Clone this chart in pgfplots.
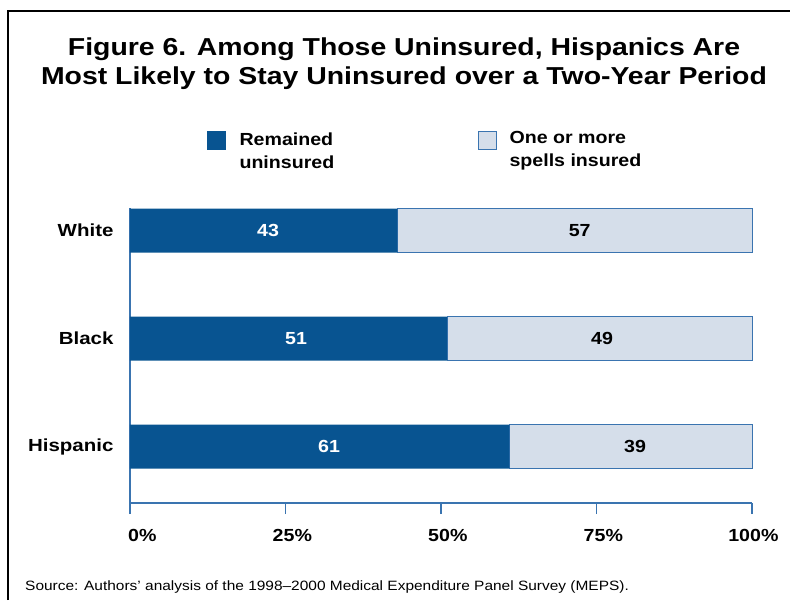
\documentclass[border=0pt]{standalone}
\usepackage{fontspec}
\setmainfont{Liberation Sans}
\usepackage{pgfplots}
\pgfplotsset{compat=1.18}
\usepackage{graphicx}
\definecolor{dblue}{HTML}{085491}
\definecolor{lblue}{HTML}{D5DEEA}
\definecolor{axblue}{HTML}{3A74B0}
\newcommand{\sx}[1]{\scalebox{1.16}[1]{#1}}
\newcommand{\sxl}[1]{\scalebox{1.12}[1]{#1}}
\newcommand{\sxc}[1]{\scalebox{1.17}[1]{#1}}
\pgfplotstableread{
y uninsured insured
0 61 39
1 51 49
2 43 57
}\datatable
\begin{document}
\begin{tikzpicture}
\path[use as bounding box] (0pt,0pt) rectangle (790pt,600pt);
\draw[line width=2pt] (8pt,0pt) -- (8pt,589pt) -- (790pt,589pt);
\node[font=\bfseries\fontsize{24.5}{29}\selectfont, align=center] at (404pt,536pt)
  {\sx{Figure 6. Among Those Uninsured, Hispanics Are}\\\sx{Most Likely to Stay Uninsured over a Two-Year Period}};
% legend
\fill[dblue] (207pt,450pt) rectangle (226pt,469pt);
\node[anchor=west, align=left, font=\bfseries\fontsize{17.5}{23}\selectfont] at (236pt,449pt) {\sxl{Remained}\\\sxl{uninsured}};
\draw[axblue, fill=lblue, line width=1.2pt] (478.6pt,450.6pt) rectangle (496.4pt,468.4pt);
\node[anchor=west, align=left, font=\bfseries\fontsize{17.5}{23}\selectfont] at (506pt,449pt) {\sxl{One or more}\\\sxl{spells insured}};
\begin{axis}[
  at={(130pt,97pt)}, anchor=south west, scale only axis,
  width=622pt, height=294.5pt,
  xbar stacked, bar width=44pt,
  xmin=0, xmax=100, ymin=-0.523, ymax=2.204,
  axis x line=bottom, axis y line=left,
  axis line style={-, draw=axblue, line width=1.5pt},
  xtick={0,25,50,75,100},
  xticklabels={\sxl{0\%},\sxl{25\%},\sxl{50\%},\sxl{75\%},\sxl{100\%}},
  ytick={0,1,2},
  yticklabels={\sxc{Hispanic},\sxc{Black},\sxc{White}},
  tick align=outside,
  major tick length=11pt,
  xtick style={draw=axblue, line width=1.5pt},
  ytick style={draw=none},
  ticklabel style={font=\bfseries\fontsize{17.5}{20}\selectfont},
  xticklabel style={anchor=north east, yshift=-12pt, xshift=30pt},
  yticklabel style={xshift=-2pt},
  clip=false,
]
\addplot[fill=dblue, draw=none] table[x=uninsured, y=y] {\datatable};
\addplot[fill=lblue, draw=axblue, line width=1pt] table[x=insured, y=y] {\datatable};
\coordinate (a2) at (axis cs:22.2,2);
\coordinate (b2) at (axis cs:72.3,2);
\coordinate (a1) at (axis cs:26.7,1);
\coordinate (b1) at (axis cs:75.9,1);
\coordinate (a0) at (axis cs:32.0,0);
\coordinate (b0) at (axis cs:81.2,0);
\end{axis}
\begin{scope}[every node/.style={font=\bfseries\fontsize{17.5}{20}\selectfont}]
\node[text=white] at (a2) {\sxl{43}};
\node[text=black] at (b2) {\sxl{57}};
\node[text=white] at (a1) {\sxl{51}};
\node[text=black] at (b1) {\sxl{49}};
\node[text=white] at (a0) {\sxl{61}};
\node[text=black] at (b0) {\sxl{39}};
\end{scope}
\node[anchor=west, inner sep=0pt, font=\fontsize{13.5}{15}\selectfont] at (25pt,13pt) {\scalebox{1.145}[1]{Source: Authors’ analysis of the 1998–2000 Medical Expenditure Panel Survey (MEPS).}};
\end{tikzpicture}
\end{document}
